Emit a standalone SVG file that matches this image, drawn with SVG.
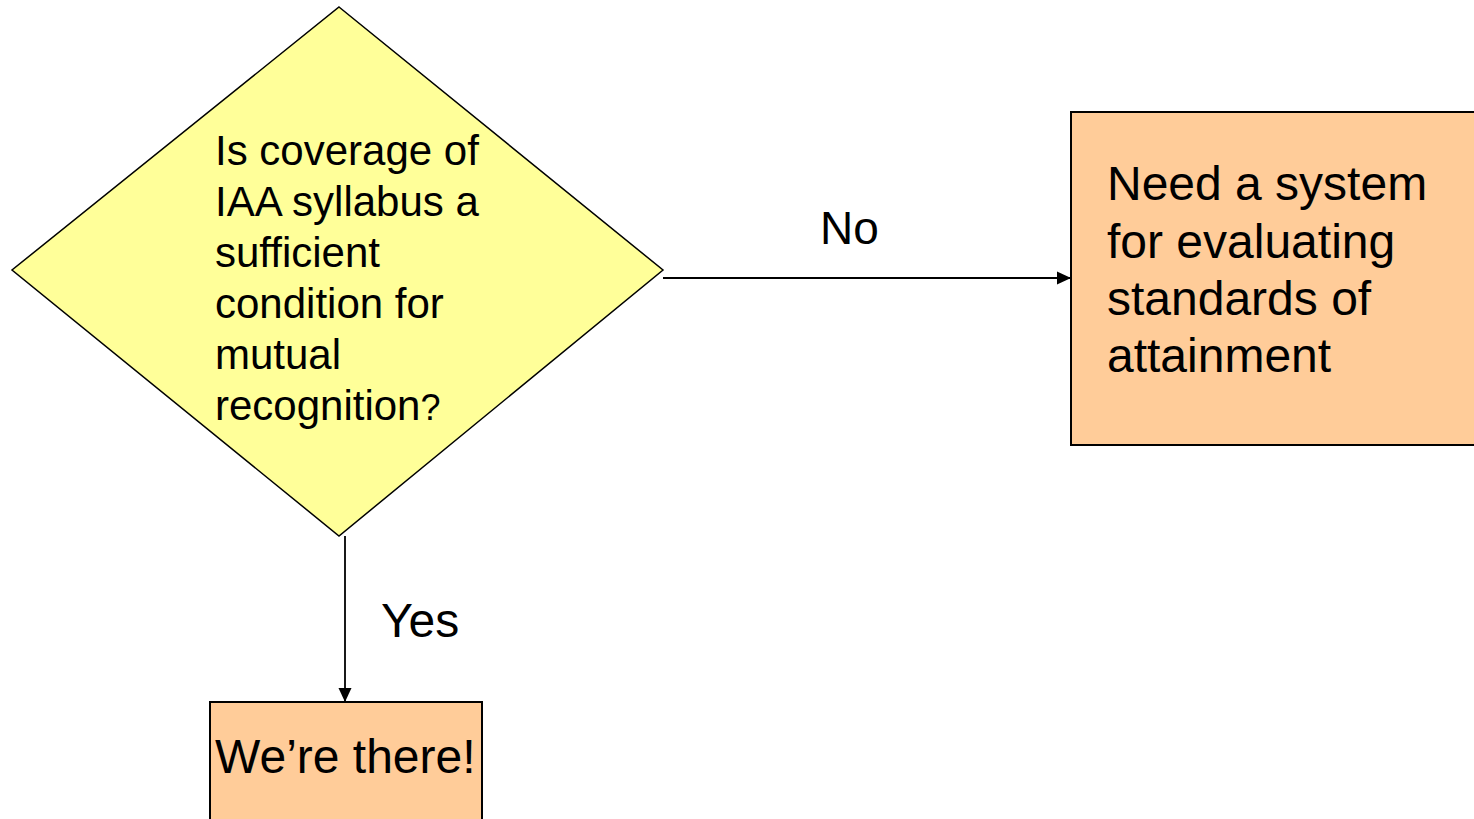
<svg xmlns="http://www.w3.org/2000/svg" width="1474" height="819" viewBox="0 0 1474 819">
<style>
text{font-family:"Liberation Sans",Arial,sans-serif;fill:#000}
.dec{fill:#FFFF99;stroke:#000;stroke-width:1.5}
.box{fill:#FFCC99;stroke:#000;stroke-width:2}
.conn{stroke:#000;stroke-width:1.8;fill:none}
</style>
<defs>
<marker id="arr" markerWidth="14" markerHeight="14" refX="14" refY="6.5" orient="auto" markerUnits="userSpaceOnUse" viewBox="0 0 14 13">
<path d="M0,0 L14,6.5 L0,13 Z" fill="#000"/>
</marker>
</defs>
<g id="connectors">
<line class="conn" x1="663" y1="278" x2="1071" y2="278" marker-end="url(#arr)"/>
<line class="conn" x1="345" y1="536" x2="345" y2="702" marker-end="url(#arr)"/>
<text font-size="46" x="820" y="244">No</text>
<text font-size="48" x="381" y="637">Yes</text>
</g>
<g id="decision">
<polygon class="dec" points="339,7 663,270 339,536 12,270"/>
<text font-size="42" x="215">
<tspan x="215" y="165">Is coverage of</tspan>
<tspan x="215" y="216">IAA syllabus a</tspan>
<tspan x="215" y="267">sufficient</tspan>
<tspan x="215" y="318">condition for</tspan>
<tspan x="215" y="369">mutual</tspan>
<tspan x="215" y="420">recognition<tspan font-size="36">?</tspan></tspan>
</text>
</g>
<g id="need-system">
<rect class="box" x="1071" y="112" width="410" height="333"/>
<text font-size="48">
<tspan x="1107" y="200">Need a system</tspan>
<tspan x="1107" y="258">for evaluating</tspan>
<tspan x="1107" y="315">standards of</tspan>
<tspan x="1107" y="372">attainment</tspan>
</text>
</g>
<g id="there">
<rect class="box" x="210" y="702" width="272" height="130"/>
<text font-size="48" x="215" y="773">We’re there!</text>
</g>
</svg>
